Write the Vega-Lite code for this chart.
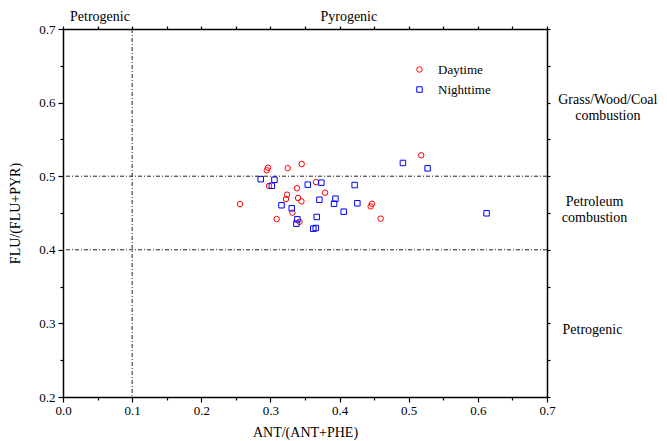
{
  "$schema": "https://vega.github.io/schema/vega-lite/v6.json",
  "width": 484,
  "height": 368,
  "autosize": {"type": "none"},
  "padding": {"left": 63, "top": 29, "right": 120, "bottom": 44},
  "background": "white",
  "config": {
    "font": "Liberation Serif",
    "view": {"stroke": null},
    "axis": {
      "domainColor": "black",
      "domainWidth": 1.5,
      "tickColor": "black",
      "tickWidth": 1.2,
      "labelColor": "black",
      "titleColor": "black",
      "grid": false,
      "labelFont": "Liberation Serif",
      "titleFont": "Liberation Serif",
      "labelFontSize": 13,
      "titleFontSize": 14,
      "titleFontWeight": "normal",
      "labelOverlap": false,
      "labelFlush": false
    }
  },
  "datasets": {
    "pts": [
      {"ant": 0.256, "flu": 0.462, "period": "Daytime"},
      {"ant": 0.2965, "flu": 0.5115, "period": "Daytime"},
      {"ant": 0.2947, "flu": 0.508, "period": "Daytime"},
      {"ant": 0.325, "flu": 0.511, "period": "Daytime"},
      {"ant": 0.3452, "flu": 0.5166, "period": "Daytime"},
      {"ant": 0.298, "flu": 0.4867, "period": "Daytime"},
      {"ant": 0.366, "flu": 0.492, "period": "Daytime"},
      {"ant": 0.3384, "flu": 0.4836, "period": "Daytime"},
      {"ant": 0.379, "flu": 0.4776, "period": "Daytime"},
      {"ant": 0.324, "flu": 0.4749, "period": "Daytime"},
      {"ant": 0.3225, "flu": 0.469, "period": "Daytime"},
      {"ant": 0.34, "flu": 0.4704, "period": "Daytime"},
      {"ant": 0.3448, "flu": 0.4659, "period": "Daytime"},
      {"ant": 0.4468, "flu": 0.4626, "period": "Daytime"},
      {"ant": 0.445, "flu": 0.459, "period": "Daytime"},
      {"ant": 0.3318, "flu": 0.4504, "period": "Daytime"},
      {"ant": 0.309, "flu": 0.4418, "period": "Daytime"},
      {"ant": 0.342, "flu": 0.438, "period": "Daytime"},
      {"ant": 0.4594, "flu": 0.4423, "period": "Daytime"},
      {"ant": 0.518, "flu": 0.5284, "period": "Daytime"},
      {"ant": 0.286, "flu": 0.496, "period": "Nighttime"},
      {"ant": 0.3058, "flu": 0.4952, "period": "Nighttime"},
      {"ant": 0.302, "flu": 0.487, "period": "Nighttime"},
      {"ant": 0.354, "flu": 0.4885, "period": "Nighttime"},
      {"ant": 0.3737, "flu": 0.4912, "period": "Nighttime"},
      {"ant": 0.4218, "flu": 0.488, "period": "Nighttime"},
      {"ant": 0.3708, "flu": 0.468, "period": "Nighttime"},
      {"ant": 0.394, "flu": 0.4694, "period": "Nighttime"},
      {"ant": 0.392, "flu": 0.4626, "period": "Nighttime"},
      {"ant": 0.4257, "flu": 0.4632, "period": "Nighttime"},
      {"ant": 0.316, "flu": 0.4605, "period": "Nighttime"},
      {"ant": 0.3308, "flu": 0.4564, "period": "Nighttime"},
      {"ant": 0.406, "flu": 0.4518, "period": "Nighttime"},
      {"ant": 0.367, "flu": 0.4446, "period": "Nighttime"},
      {"ant": 0.339, "flu": 0.4414, "period": "Nighttime"},
      {"ant": 0.3376, "flu": 0.4355, "period": "Nighttime"},
      {"ant": 0.3655, "flu": 0.4296, "period": "Nighttime"},
      {"ant": 0.362, "flu": 0.4287, "period": "Nighttime"},
      {"ant": 0.4916, "flu": 0.518, "period": "Nighttime"},
      {"ant": 0.5273, "flu": 0.5107, "period": "Nighttime"},
      {"ant": 0.6126, "flu": 0.4496, "period": "Nighttime"}
    ],
    "toplabels": [
      {"x": 0.0535, "y": 0.7163, "label": "Petrogenic"},
      {"x": 0.4134, "y": 0.7163, "label": "Pyrogenic"}
    ],
    "sidelabels": [
      {"x": 0.788, "y": 0.6035, "label": "Grass/Wood/Coal\ncombustion"},
      {"x": 0.7687, "y": 0.4643, "label": "Petroleum\ncombustion"},
      {"x": 0.7657, "y": 0.291, "label": "Petrogenic"}
    ]
  },
  "layer": [
    {
      "data": {"name": "pts"},
      "mark": {"type": "point", "filled": false, "strokeWidth": 1, "size": 30, "opacity": 1},
      "encoding": {
        "x": {
          "field": "ant", "type": "quantitative",
          "scale": {"domain": [0, 0.7], "nice": false, "zero": false},
          "axis": {
            "orient": "bottom",
            "title": "ANT/(ANT+PHE)",
            "values": [0, 0.05, 0.1, 0.15, 0.2, 0.25, 0.3, 0.35, 0.4, 0.45, 0.5, 0.55, 0.6, 0.65, 0.7],
            "labelExpr": "abs(datum.value*10-round(datum.value*10))<0.01 ? format(datum.value,'.1f') : ''",
            "tickSize": {"condition": {"test": "abs(datum.value*10-round(datum.value*10))<0.01", "value": 5}, "value": 3},
            "labelPadding": 2,
            "titlePadding": 8
          }
        },
        "y": {
          "field": "flu", "type": "quantitative",
          "scale": {"domain": [0.2, 0.7], "nice": false, "zero": false},
          "axis": {
            "orient": "left",
            "title": "FLU/(FLU+PYR)",
            "values": [0.2, 0.25, 0.3, 0.35, 0.4, 0.45, 0.5, 0.55, 0.6, 0.65, 0.7],
            "labelExpr": "abs(datum.value*10-round(datum.value*10))<0.01 ? format(datum.value,'.1f') : ''",
            "tickSize": {"condition": {"test": "abs(datum.value*10-round(datum.value*10))<0.01", "value": 5}, "value": 3},
            "labelPadding": 3,
            "titlePadding": 16
          }
        },
        "color": {
          "field": "period", "type": "nominal",
          "scale": {"domain": ["Daytime", "Nighttime"], "range": ["#ff0000", "#0000ff"]},
          "legend": {"orient": "none", "legendX": 350, "legendY": 34, "title": null, "labelFontSize": 13, "labelFont": "Liberation Serif", "labelColor": "black", "symbolSize": 30, "symbolStrokeWidth": 1, "rowPadding": 6, "labelOffset": 12}
        },
        "shape": {
          "field": "period", "type": "nominal",
          "scale": {"domain": ["Daytime", "Nighttime"], "range": ["circle", "square"]},
          "legend": {"orient": "none", "legendX": 350, "legendY": 34, "title": null, "labelFontSize": 13, "labelFont": "Liberation Serif", "labelColor": "black", "symbolSize": 30, "symbolStrokeWidth": 1, "rowPadding": 6, "labelOffset": 12}
        }
      }
    },
    {
      "data": {"values": [{"x": 0.1}]},
      "mark": {"type": "rule", "color": "#222222", "strokeWidth": 1, "strokeDash": [4, 2, 1, 2]},
      "encoding": {
        "x": {
          "field": "x", "type": "quantitative",
          "scale": {"domain": [0, 0.7], "nice": false, "zero": false},
          "axis": {"orient": "top", "title": null, "labels": false, "tickSize": 3,
            "values": [0, 0.05, 0.1, 0.15, 0.2, 0.25, 0.3, 0.35, 0.4, 0.45, 0.5, 0.55, 0.6, 0.65, 0.7]}
        }
      }
    },
    {
      "data": {"values": [{"y": 0.5}, {"y": 0.4}]},
      "mark": {"type": "rule", "color": "#222222", "strokeWidth": 1, "strokeDash": [4, 2, 1, 2]},
      "encoding": {
        "y": {
          "field": "y", "type": "quantitative",
          "scale": {"domain": [0.2, 0.7], "nice": false, "zero": false},
          "axis": {"orient": "right", "title": null, "labels": false, "tickSize": 3,
            "values": [0.2, 0.25, 0.3, 0.35, 0.4, 0.45, 0.5, 0.55, 0.6, 0.65, 0.7]}
        }
      }
    },
    {
      "data": {"name": "toplabels"},
      "mark": {"type": "text", "font": "Liberation Serif", "fontSize": 14, "color": "black", "align": "center", "baseline": "middle"},
      "encoding": {
        "x": {"field": "x", "type": "quantitative", "scale": {"domain": [0, 0.7], "nice": false, "zero": false}, "axis": null},
        "y": {"field": "y", "type": "quantitative", "scale": {"domain": [0.2, 0.7], "nice": false, "zero": false}, "axis": null},
        "text": {"field": "label"}
      }
    },
    {
      "data": {"name": "sidelabels"},
      "mark": {"type": "text", "font": "Liberation Serif", "fontSize": 14, "color": "black", "align": "center", "baseline": "middle", "lineBreak": "\n", "lineHeight": 16},
      "encoding": {
        "x": {"field": "x", "type": "quantitative", "scale": {"domain": [0, 0.7], "nice": false, "zero": false}, "axis": null},
        "y": {"field": "y", "type": "quantitative", "scale": {"domain": [0.2, 0.7], "nice": false, "zero": false}, "axis": null},
        "text": {"field": "label"}
      }
    }
  ],
  "resolve": {"axis": {"x": "independent", "y": "independent"}}
}
